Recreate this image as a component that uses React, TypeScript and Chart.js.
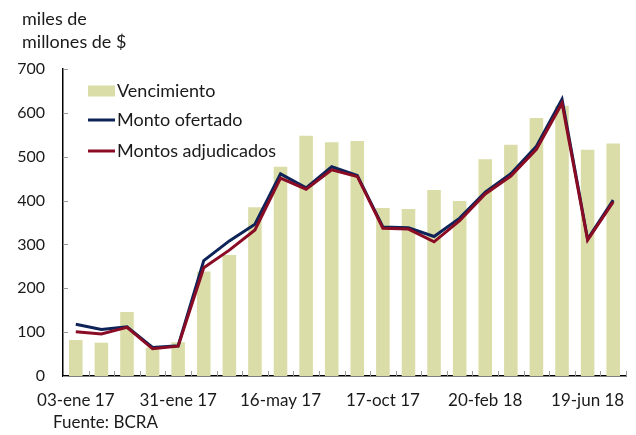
import React, { useEffect, useRef } from 'react';
import { Chart, registerables } from 'chart.js';

Chart.register(...registerables);

const categories = [
  '03-ene 17', '', '', '', '31-ene 17', '', '', '', '16-may 17', '', '', '',
  '17-oct 17', '', '', '', '20-feb 18', '', '', '', '19-jun 18', '',
];
const vencimiento = [82, 76, 146, 65, 77, 238, 276, 385, 477, 548, 533, 536, 383, 381, 424, 399, 494, 527, 588, 616, 516, 530];
const montoOfertado = [118, 106, 112, 65, 69, 263, 308, 346, 461, 429, 477, 457, 340, 338, 318, 360, 419, 461, 524, 631, 312, 401];
const montosAdjudicados = [101, 96, 111, 62, 68, 247, 287, 333, 451, 426, 470, 455, 337, 335, 306, 354, 415, 456, 517, 622, 310, 397];
const yTicks = [0, 100, 200, 300, 400, 500, 600, 700];

const FONT = 'Lato, "Open Sans", sans-serif';
const TEXT = '#1a1a1a';
const BAR = '#DBDDA9';
const NAVY = '#0E2358';
const RED = '#8A0B24';

const overlay = {
  id: 'overlay',
  afterDraw(chart: any) {
    const ctx = chart.ctx;
    const area = chart.chartArea;
    const y = chart.scales.y;
    ctx.save();
    // tick marks
    ctx.strokeStyle = '#9a9a9a';
    ctx.lineWidth = 1;
    yTicks.forEach((v) => {
      const py = Math.round(y.getPixelForValue(v)) + 0.5;
      ctx.beginPath();
      ctx.moveTo(area.left, py);
      ctx.lineTo(area.left + 5, py);
      ctx.stroke();
    });
    const n = categories.length;
    const step = (area.right - area.left) / n;
    for (let i = 1; i <= n; i++) {
      const px = Math.round(area.left + i * step) + 0.5;
      ctx.beginPath();
      ctx.moveTo(px, area.bottom);
      ctx.lineTo(px, area.bottom - 5);
      ctx.stroke();
    }
    // title
    ctx.fillStyle = TEXT;
    ctx.textAlign = 'left';
    ctx.textBaseline = 'middle';
    ctx.font = `18px ${FONT}`;
    ctx.fillText('miles de', 22, 19);
    ctx.fillText('millones de $', 22, 42);
    ctx.font = `17px ${FONT}`;
    ctx.fillText('Fuente: BCRA', 53, 423);
    // legend
    const ds = chart.data.datasets;
    const lx = 88;
    const items = [
      { y: 91, ds: ds[0] },
      { y: 120, ds: ds[1] },
      { y: 151, ds: ds[2] },
    ];
    ctx.font = `18px ${FONT}`;
    items.forEach((it) => {
      if (it.ds.type === 'bar') {
        ctx.fillStyle = it.ds.backgroundColor;
        ctx.fillRect(lx, it.y - 5.5, 27, 11);
      } else {
        ctx.strokeStyle = it.ds.borderColor;
        ctx.lineWidth = 3;
        ctx.beginPath();
        ctx.moveTo(lx, it.y);
        ctx.lineTo(lx + 27, it.y);
        ctx.stroke();
      }
      ctx.fillStyle = TEXT;
      ctx.fillText(it.ds.label, lx + 29, it.y);
    });
    ctx.restore();
  },
};

export default function App() {
  const ref = useRef<HTMLCanvasElement>(null);
  useEffect(() => {
    document.body.style.margin = '0';
    const chart = new Chart(ref.current!, {
      type: 'bar',
      data: {
        labels: categories,
        datasets: [
          {
            type: 'bar',
            label: 'Vencimiento',
            data: vencimiento,
            backgroundColor: BAR,
            barPercentage: 0.53,
            categoryPercentage: 1,
            order: 3,
          },
          {
            type: 'line',
            label: 'Monto ofertado',
            data: montoOfertado,
            borderColor: NAVY,
            backgroundColor: NAVY,
            borderWidth: 3,
            pointRadius: 0,
            tension: 0,
            order: 2,
          },
          {
            type: 'line',
            label: 'Montos adjudicados',
            data: montosAdjudicados,
            borderColor: RED,
            backgroundColor: RED,
            borderWidth: 3,
            pointRadius: 0,
            tension: 0,
            order: 1,
          },
        ] as any,
      },
      options: {
        animation: false,
        responsive: false,
        maintainAspectRatio: false,
        layout: { padding: { top: 69, right: 10, left: 0, bottom: 0 } },
        plugins: { legend: { display: false }, tooltip: { enabled: false }, title: { display: false } },
        scales: {
          x: {
            offset: true,
            grid: { display: false, drawTicks: false },
            border: { display: true, color: '#000', width: 1.5 },
            ticks: {
              autoSkip: false,
              maxRotation: 0,
              padding: 14,
              color: TEXT,
              font: { family: FONT, size: 17 },
              callback: (_v: any, i: number) => categories[i],
            },
            afterFit: (s: any) => { s.height = 59; },
          },
          y: {
            min: 0,
            max: 700,
            grid: { display: false, drawTicks: false },
            border: { display: true, color: '#000', width: 1.5 },
            ticks: {
              stepSize: 100,
              padding: 18,
              color: TEXT,
              font: { family: FONT, size: 16 },
            },
            afterFit: (s: any) => { s.width = 63; },
          },
        },
      },
      plugins: [overlay],
    });
    return () => chart.destroy();
  }, []);
  return <canvas ref={ref} width={636} height={435} style={{ display: 'block' }} />;
}
